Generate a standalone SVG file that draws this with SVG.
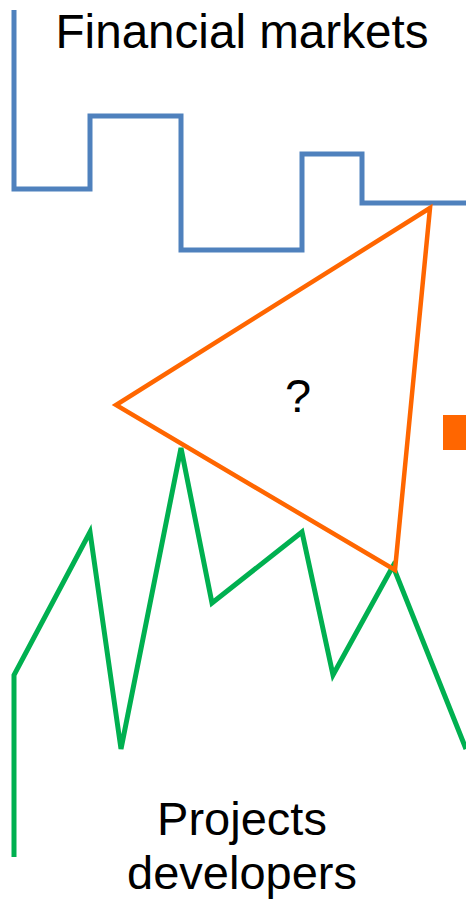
<svg xmlns="http://www.w3.org/2000/svg" width="466" height="900" viewBox="0 0 466 900">
<style>
.lbl{font-family:"Liberation Sans",Arial,sans-serif;font-size:47px;fill:#000;text-anchor:middle}
.line{fill:none;stroke-width:5;stroke-linejoin:miter}
</style>
<rect width="466" height="900" fill="#fff"/>
<g id="financial-markets">
<polyline class="line" stroke="#4f81bd" points="14,10 14,189 90,189 90,116 181,116 181,250 302,250 302,154 362,154 362,203 466,203"/>
<text class="lbl" x="242" y="48" style="font-size:47.6px">Financial markets</text>
</g>
<g id="projects-developers">
<polyline class="line" stroke="#00b050" stroke-width="5.5" points="14,857 14,675 90,532 121,749 181,448 212,603 302,532 333,675 393,566 466,749"/>
<text class="lbl" x="242" y="835">Projects</text>
<text class="lbl" x="242" y="889">developers</text>
</g>
<g id="unknown">
<polygon fill="none" stroke="#ff6600" stroke-width="4.5" stroke-linejoin="miter" points="430,208 116,405 395,570"/>
<text class="lbl" x="298" y="412">?</text>
</g>
<g id="marker">
<rect x="443" y="415" width="23" height="35" fill="#ff6600"/>
</g>
</svg>
